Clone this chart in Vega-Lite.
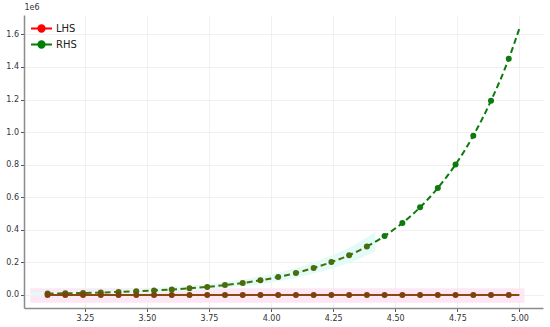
{
  "$schema": "https://vega.github.io/schema/vega-lite/v6.json",
  "autosize": {"type": "none"},
  "width": 519,
  "height": 293,
  "padding": {"left": 24, "top": 15, "right": 7, "bottom": 19},
  "background": "white",
  "config": {
    "view": {"stroke": null},
    "font": "DejaVu Sans",
    "axis": {
      "labelFont": "DejaVu Sans",
      "labelFontSize": 8,
      "labelColor": "#333333",
      "tickColor": "#555555",
      "tickSize": 3.5,
      "domainColor": "#8c8c8c",
      "domainWidth": 1.5,
      "gridColor": "#ececec",
      "gridWidth": 0.8,
      "labelOverlap": false
    },
    "legend": {"labelFont": "DejaVu Sans"}
  },
  "datasets": {
    "pts": [
      {"x": 3.1, "lhs": 0, "rhs": 8300},
      {"x": 3.1714, "lhs": 0, "rhs": 10100},
      {"x": 3.2429, "lhs": 0, "rhs": 12400},
      {"x": 3.3143, "lhs": 0, "rhs": 15100},
      {"x": 3.3857, "lhs": 0, "rhs": 18400},
      {"x": 3.4571, "lhs": 0, "rhs": 22500},
      {"x": 3.5286, "lhs": 0, "rhs": 27400},
      {"x": 3.6, "lhs": 0, "rhs": 33400},
      {"x": 3.6714, "lhs": 0, "rhs": 40700},
      {"x": 3.7429, "lhs": 0, "rhs": 49700},
      {"x": 3.8143, "lhs": 0, "rhs": 60600},
      {"x": 3.8857, "lhs": 0, "rhs": 73900},
      {"x": 3.9571, "lhs": 0, "rhs": 90100},
      {"x": 4.0286, "lhs": 0, "rhs": 110000},
      {"x": 4.1, "lhs": 0, "rhs": 135000},
      {"x": 4.1714, "lhs": 0, "rhs": 166000},
      {"x": 4.2429, "lhs": 0, "rhs": 202000},
      {"x": 4.3143, "lhs": 0, "rhs": 244000},
      {"x": 4.3857, "lhs": 0, "rhs": 298000},
      {"x": 4.4571, "lhs": 0, "rhs": 362000},
      {"x": 4.5286, "lhs": 0, "rhs": 442000},
      {"x": 4.6, "lhs": 0, "rhs": 538000},
      {"x": 4.6714, "lhs": 0, "rhs": 657000},
      {"x": 4.7429, "lhs": 0, "rhs": 801000},
      {"x": 4.8143, "lhs": 0, "rhs": 978000},
      {"x": 4.8857, "lhs": 0, "rhs": 1193000},
      {"x": 4.9571, "lhs": 0, "rhs": 1450000},
      {"x": 5.0, "lhs": 0, "rhs": 1637000}
    ],
    "pinkband": [
      {"x": 3.03, "lo": -48000, "hi": 42000},
      {"x": 5.02, "lo": -48000, "hi": 42000}
    ],
    "cyanband": [
      {"x": 3.03, "lo": -4100, "hi": 17900},
      {"x": 3.1, "lo": -2900, "hi": 19500},
      {"x": 3.1714, "lo": -1400, "hi": 21600},
      {"x": 3.2429, "lo": 500, "hi": 24300},
      {"x": 3.3143, "lo": 2800, "hi": 27400},
      {"x": 3.3857, "lo": 5600, "hi": 31200},
      {"x": 3.4571, "lo": 9100, "hi": 35900},
      {"x": 3.5286, "lo": 13300, "hi": 41500},
      {"x": 3.6, "lo": 18400, "hi": 48400},
      {"x": 3.6714, "lo": 24600, "hi": 56800},
      {"x": 3.7429, "lo": 32200, "hi": 67200},
      {"x": 3.8143, "lo": 41500, "hi": 79700},
      {"x": 3.8857, "lo": 52800, "hi": 95000},
      {"x": 3.9571, "lo": 66600, "hi": 113600},
      {"x": 4.0286, "lo": 83500, "hi": 136500},
      {"x": 4.1, "lo": 104800, "hi": 165300},
      {"x": 4.1714, "lo": 131100, "hi": 200900},
      {"x": 4.2429, "lo": 161700, "hi": 242300},
      {"x": 4.3143, "lo": 197400, "hi": 290600},
      {"x": 4.3857, "lo": 243300, "hi": 352700},
      {"x": 4.42, "lo": 268800, "hi": 387200}
    ],
    "series": [
      {"series": "LHS", "x": 2.0, "y": 0},
      {"series": "RHS", "x": 2.0, "y": 0}
    ]
  },
  "encoding": {
    "x": {
      "field": "x", "type": "quantitative", "title": null,
      "scale": {"domain": [3.005, 5.095], "nice": false, "zero": false},
      "axis": {"values": [3.25, 3.5, 3.75, 4.0, 4.25, 4.5, 4.75, 5.0], "format": ".2f", "grid": true, "labelPadding": 3}
    },
    "y": {
      "field": "rhs", "type": "quantitative", "title": "1e6",
      "scale": {"domain": [-80000, 1719000], "nice": false, "zero": false},
      "axis": {
        "values": [0, 200000, 400000, 600000, 800000, 1000000, 1200000, 1400000, 1600000],
        "labelExpr": "format(datum.value / 1000000, '.1f')",
        "labelOverlap": false,
        "grid": true,
        "titleAngle": 0,
        "titleAlign": "left",
        "titleBaseline": "bottom",
        "titleX": 0,
        "titleY": -4,
        "titleFontSize": 8,
        "titleFontWeight": "normal",
        "titleColor": "#333333",
        "labelPadding": 2
      }
    }
  },
  "layer": [
    {
      "data": {"name": "pinkband"},
      "mark": {"type": "area", "color": "#fde7f5"},
      "encoding": {
        "y": {"field": "lo"},
        "y2": {"field": "hi"}
      }
    },
    {
      "data": {"name": "cyanband"},
      "mark": {"type": "area", "color": "#e2fbf6", "interpolate": "monotone"},
      "encoding": {
        "y": {"field": "lo"},
        "y2": {"field": "hi"}
      }
    },
    {
      "data": {"name": "pts"},
      "transform": [{"filter": "datum.x <= 4.39"}],
      "mark": {"type": "line", "color": "#4b6c0c", "strokeWidth": 2, "strokeDash": [6, 3.5], "interpolate": "monotone"}
    },
    {
      "data": {"name": "pts"},
      "transform": [{"filter": "datum.x >= 4.38"}],
      "mark": {"type": "line", "color": "#0c7a0c", "strokeWidth": 2, "strokeDash": [6, 3.5], "interpolate": "monotone"}
    },
    {
      "data": {"name": "pts"},
      "transform": [{"filter": "datum.x < 4.99"}],
      "mark": {"type": "point", "filled": true, "size": 36, "opacity": 1},
      "encoding": {
        "color": {"condition": {"test": "datum.x < 4.42", "value": "#4b6c0c"}, "value": "#0c7a0c"}
      }
    },
    {
      "data": {"name": "pts"},
      "mark": {"type": "line", "color": "#8a4a0e", "strokeWidth": 2},
      "encoding": {
        "y": {"field": "lhs"}
      }
    },
    {
      "data": {"name": "pts"},
      "transform": [{"filter": "datum.x < 4.99"}],
      "mark": {"type": "point", "filled": true, "size": 36, "opacity": 1, "color": "#7c420c"},
      "encoding": {
        "y": {"field": "lhs"}
      }
    },
    {
      "data": {"name": "pinkband"},
      "transform": [{"filter": "datum.x < 3.1"}],
      "mark": {"type": "rule", "color": "#8c8c8c", "strokeWidth": 1.2},
      "encoding": {
        "x": {"datum": 3.005},
        "x2": {"datum": 5.095},
        "y": {"datum": 1719000}
      }
    },
    {
      "data": {"name": "series"},
      "mark": {"type": "point", "filled": true, "opacity": 1, "size": 10, "clip": true},
      "encoding": {
        "y": {"field": "y"},
        "fill": {
          "field": "series", "type": "nominal",
          "scale": {"domain": ["LHS", "RHS"], "range": ["#ff0000", "#008000"]},
          "legend": {
            "title": null,
            "orient": "none",
            "legendX": 9,
            "legendY": 5,
            "symbolType": "M-1.4,0L1.4,0M-0.42,0A0.42,0.42 0 1,0 0.42,0A0.42,0.42 0 1,0 -0.42,0",
            "symbolSize": 225,
            "symbolStrokeWidth": 2,
            "symbolOpacity": 1,
            "labelFontSize": 10,
            "labelColor": "#222222",
            "labelOffset": 6,
            "rowPadding": 0
          }
        },
        "stroke": {
          "field": "series", "type": "nominal",
          "scale": {"domain": ["LHS", "RHS"], "range": ["#ff0000", "#008000"]}
        }
      }
    }
  ]
}
